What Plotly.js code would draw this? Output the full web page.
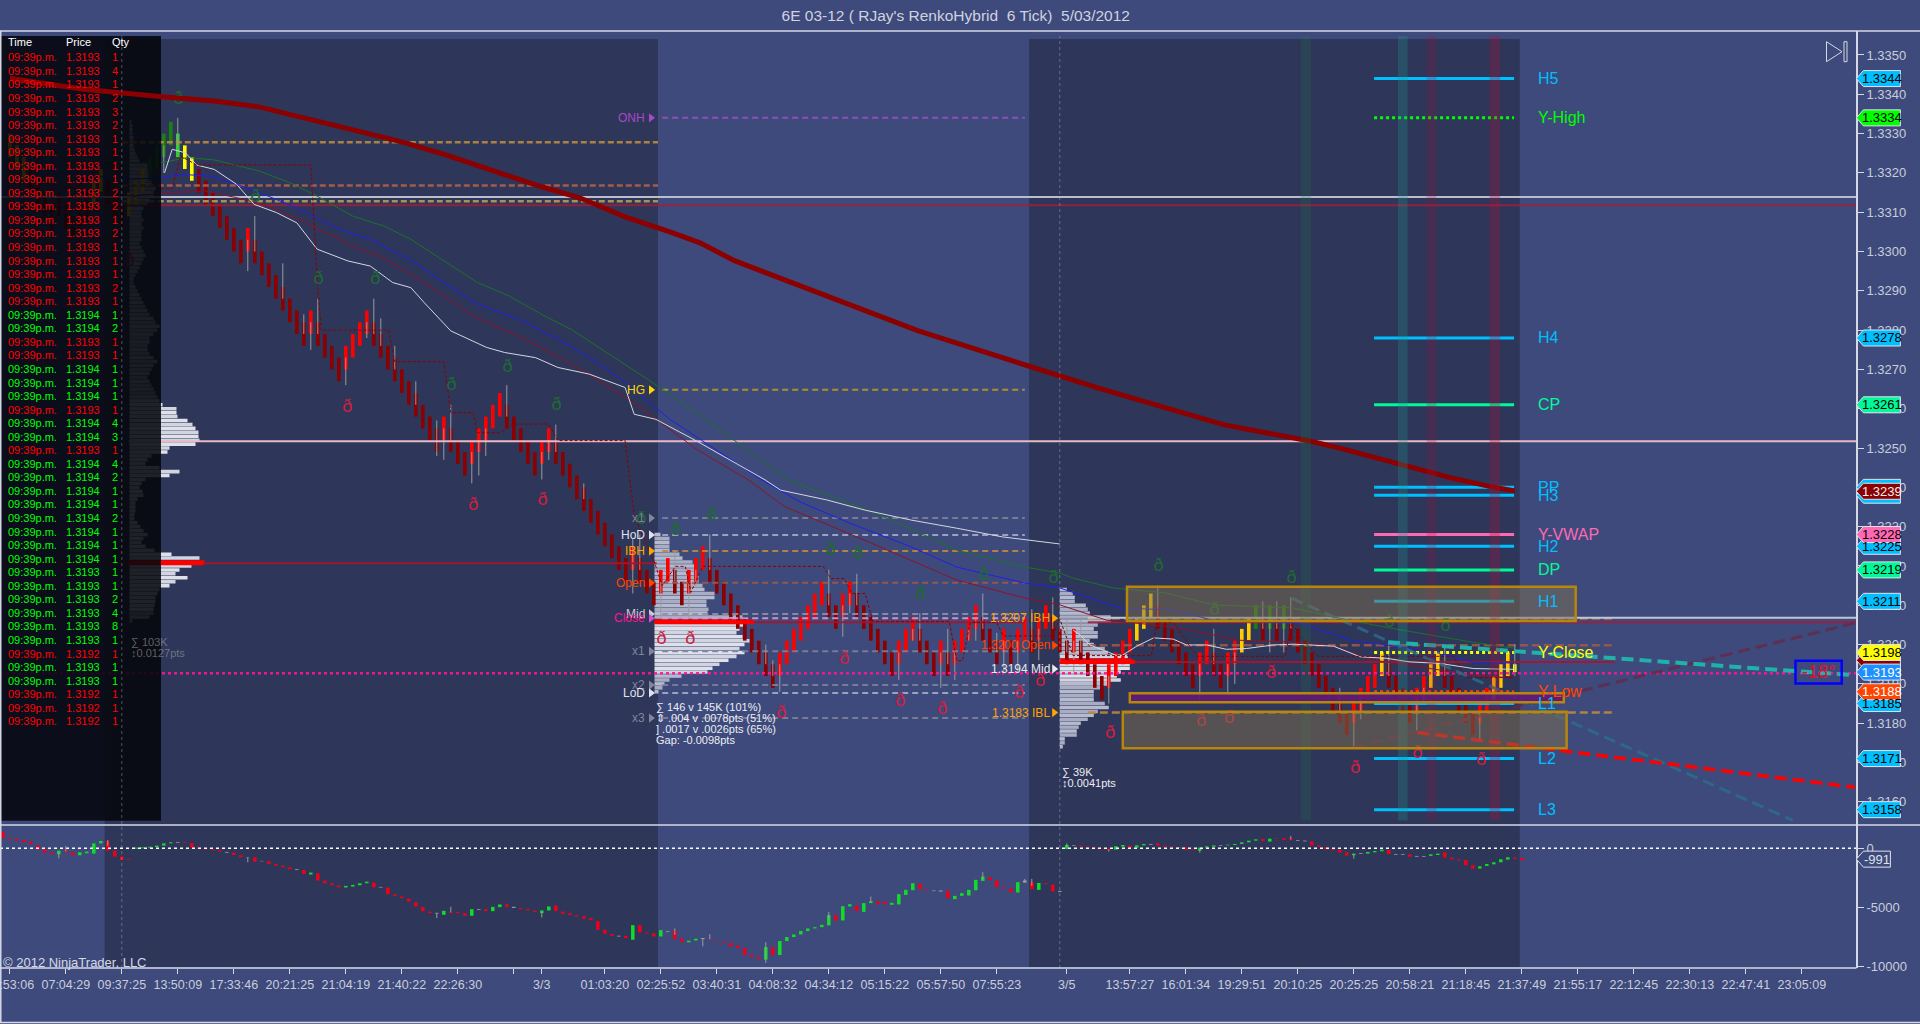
<!DOCTYPE html>
<html><head><meta charset="utf-8">
<script src="https://cdn.plot.ly/plotly-3.0.1.min.js"></script>
<style>html,body{margin:0;padding:0;background:#3e4a7b;overflow:hidden}#c{width:1920px;height:1024px}</style>
</head><body><div id="c"></div>
<script>
// ---------- tick labels
const xTickBars=[0,8,16,24,32,40,48,56,64,72,76,85,93,101,109,117,125,133,141,151,160,168,176,184,192,200,208,216,224,232,240,248,256];
const xTickLabels=["06:53:06","07:04:29","09:37:25","13:50:09","17:33:46","20:21:25","21:04:19","21:40:22","22:26:30","","3/3","01:03:20","02:25:52","03:40:31","04:08:32","04:34:12","05:15:22","05:57:50","07:55:23","3/5","13:57:27","16:01:34","19:29:51","20:10:25","20:25:25","20:58:21","21:18:45","21:37:49","21:55:17","22:12:45","22:30:13","22:47:41","23:05:09"];
// ---------- Renko bars: top of body per bar, bar kind
const bodyTops=[1.3330,1.3327,1.3324,1.3321,1.3318,1.3315,1.3312,1.3315,1.3312,1.3309,1.3312,1.3315,1.3318,1.3321,1.3318,1.3315,1.3312,1.3315,1.3318,1.3321,1.3324,1.3327,1.3330,1.3333,1.3330,1.3327,1.3324,1.3321,1.3318,1.3315,1.3312,1.3309,1.3306,1.3303,1.3306,1.3303,1.3300,1.3297,1.3294,1.3291,1.3288,1.3285,1.3282,1.3285,1.3282,1.3279,1.3276,1.3273,1.3276,1.3279,1.3282,1.3285,1.3282,1.3279,1.3276,1.3273,1.3270,1.3267,1.3264,1.3261,1.3258,1.3255,1.3258,1.3255,1.3252,1.3249,1.3252,1.3255,1.3258,1.3261,1.3264,1.3261,1.3258,1.3255,1.3252,1.3249,1.3252,1.3255,1.3252,1.3249,1.3246,1.3243,1.3240,1.3237,1.3234,1.3231,1.3228,1.3225,1.3222,1.3225,1.3222,1.3219,1.3216,1.3219,1.3222,1.3219,1.3216,1.3219,1.3222,1.3225,1.3222,1.3219,1.3216,1.3213,1.3210,1.3207,1.3204,1.3201,1.3198,1.3195,1.3198,1.3201,1.3204,1.3207,1.3210,1.3213,1.3216,1.3213,1.3210,1.3213,1.3216,1.3213,1.3210,1.3207,1.3204,1.3201,1.3198,1.3201,1.3204,1.3207,1.3204,1.3201,1.3198,1.3201,1.3198,1.3201,1.3204,1.3207,1.3210,1.3207,1.3204,1.3201,1.3204,1.3201,1.3204,1.3207,1.3204,1.3207,1.3210,1.3207,1.3204,1.3201,1.3204,1.3201,1.3198,1.3195,1.3192,1.3195,1.3198,1.3201,1.3204,1.3207,1.3210,1.3213,1.3210,1.3207,1.3204,1.3201,1.3198,1.3195,1.3198,1.3201,1.3198,1.3195,1.3198,1.3201,1.3204,1.3207,1.3210,1.3207,1.3210,1.3207,1.3210,1.3207,1.3204,1.3201,1.3198,1.3195,1.3192,1.3189,1.3186,1.3183,1.3186,1.3189,1.3192,1.3195,1.3198,1.3195,1.3192,1.3189,1.3186,1.3189,1.3192,1.3195,1.3198,1.3195,1.3192,1.3189,1.3186,1.3183,1.3186,1.3189,1.3192,1.3195,1.3198,1.3195];
const bodyKinds=('ggg ddddddddd gg ddd ggg GGGG L YY ddddddd r dddddddd r dddd rrrr dddddddddd r ddd rrrrr ddddd rr ddddddddddd r ddd rr dd rrr dddddddddd rrrrrrr dd rr dddddd rrr ddd r d rrrr ddd r d rr d rr ddd r dddd rrrr ggg dddddd rr dd rr gg G d G d G ddddddddd rrrr g dddd rr gg ddddd rr ggg Y').replace(/ /g,'').split('');
const renkoBody=0.0006, lastBody=0.0002;
// ---------- wicks
const wickBars=[24,22,34,35,39,44,43,42,48,51,52,53,55,58,61,61,62,63,66,67,68,71,76,77,78,82,89,89,90,93,95,97,98,100,108,109,110,117,119,120,121,127,129,130,133,134,135,137,138,139,141,142,144,146,147,149,151,152,153,157,164,170,172,174,175,179,180,181,182,183,190,192,193,197,201,202,205,210,215];
const wickEnds=[1.3334,1.3320,1.3295,1.3309,1.3297,1.3288,1.3275,1.3284,1.3266,1.3278,1.3288,1.3283,1.3276,1.3267,1.3257,1.3248,1.3247,1.3261,1.3241,1.3243,1.3248,1.3266,1.3242,1.3247,1.3256,1.3241,1.3227,1.3213,1.3228,1.3207,1.3224,1.3207,1.3215,1.3228,1.3200,1.3196,1.3188,1.3219,1.3202,1.3208,1.3218,1.3191,1.3201,1.3208,1.3189,1.3204,1.3191,1.3201,1.3201,1.3213,1.3203,1.3193,1.3193,1.3209,1.3196,1.3212,1.3207,1.3193,1.3207,1.3185,1.3215,1.3186,1.3204,1.3187,1.3190,1.3211,1.3198,1.3211,1.3198,1.3212,1.3189,1.3174,1.3181,1.3200,1.3178,1.3185,1.3200,1.3176,1.3200];
// ---------- moving averages
const maRedX=[0,10.5,22.2,29.2,35.6,43.2,50.9,56,62.3,68.7,75.2,81.5,87.9,94.3,98.6,103.6,112.3,121,129.7,143.7,156,173.5,185.7,190,195.3,200.6,205.9,211.2,215];
const maRedY=[1.33441,1.33413,1.33393,1.33383,1.33368,1.33335,1.33302,1.33279,1.33246,1.33207,1.33169,1.33136,1.33088,1.33050,1.33022,1.32976,1.32917,1.32855,1.32799,1.32719,1.32650,1.32559,1.32518,1.32500,1.32475,1.32449,1.32424,1.32403,1.32391];
const vwap1X=[22.1,23.2,25.1,26.7,29.2,32.4,34.9,38.1,41,43.9,48.3,51.5,54.7,57.3,59.2,63,68.1,70.7,75.1,78.3,82.8,87.9,89.2,92.3,98.1,107.9,110.1,116.7,122.2,128.7,135.3,141.8,150];
const vwap1Y=[1.33200,1.33260,1.33251,1.33220,1.33209,1.33171,1.33120,1.33099,1.33073,1.33006,1.32976,1.32963,1.32921,1.32908,1.32870,1.32798,1.32756,1.32743,1.32730,1.32705,1.32688,1.32654,1.32586,1.32573,1.32518,1.32419,1.32393,1.32368,1.32342,1.32317,1.32296,1.32274,1.32256];
const vwap2X=[151.9,152.9,154.3,158.6,161,163.4,166.2,168.1,171,173.8,176.7,180.5,183.4,189.1,192.9,196.7,200,204.3,209.1,214.8];
const vwap2Y=[1.32037,1.32024,1.31999,1.31969,1.31996,1.32017,1.32014,1.31999,1.31999,1.31988,1.31990,1.31999,1.32001,1.31996,1.31969,1.31965,1.31956,1.31952,1.31939,1.31937];
const greenX=[0,5.6,12.6,17.7,21.6,25.4,29.2,35.6,40,43.9,49,53.4,57.3,61.7,66.8,71.3,76.4,80.2,85.3,91.1,98.1,111.2,116.1,123.3,128.2,135.3,145.1,150,151.9,157.6,165.3,171.9,183.3,190,197.2,209,214.8];
const greenY=[1.33264,1.33251,1.33234,1.33226,1.33226,1.33239,1.33233,1.33205,1.33175,1.33141,1.33090,1.33065,1.33031,1.32980,1.32921,1.32887,1.32836,1.32802,1.32743,1.32675,1.32590,1.32419,1.32385,1.32337,1.32299,1.32240,1.32197,1.32182,1.32169,1.32144,1.32131,1.32101,1.32093,1.32067,1.32042,1.32006,1.31991];
const blueX=[1.1,5,10.1,16.5,20.3,24.7,28.6,32.4,36.9,42,47.1,51.5,57.9,62.4,66.8,72.6,78.3,84.1,87.9,94.3,107.4,112.9,120,128.7,135.3,145.1,150,158.6,166.2,171.9,184.3,191.5,196.7,204.3,209,214.8];
const blueY=[1.33222,1.33209,1.33196,1.33184,1.33186,1.33196,1.33192,1.33171,1.33141,1.33103,1.33056,1.33031,1.32972,1.32917,1.32866,1.32828,1.32777,1.32717,1.32667,1.32573,1.32419,1.32363,1.32309,1.32249,1.32197,1.32156,1.32144,1.32093,1.32088,1.32062,1.32055,1.32011,1.31999,1.31978,1.31955,1.31953];
const maroonX=[1.1,6.3,11.4,17.7,22.8,27.9,32.4,36.9,43.2,49,53.4,59.2,66.2,72.6,79,84.7,89.8,98.1,105.5,110.7,121,128.7,135.3,145.1,150,156.7,166.2,175.7,184.3,189,194.7,201.5,209,214.8];
const maroonY=[1.33179,1.33171,1.33154,1.33141,1.33150,1.33154,1.33137,1.33116,1.33065,1.33014,1.32984,1.32921,1.32836,1.32785,1.32726,1.32667,1.32607,1.32497,1.32419,1.32351,1.32274,1.32215,1.32164,1.32118,1.32101,1.32062,1.32045,1.32011,1.32006,1.31996,1.31961,1.31943,1.31922,1.31915];
const stepX=[20.9,23.2,24.4,26.7,43,43.4,44,44.5,54.1,55,62,63,66.2,66.8,70,71.9,77,78.3,87.9,89.2,92.1,93.2,95.1,96.5,97.3,99,116.2,117.3,119.2,120.3,122.2,123.3,134.2,135.3,136.1,137.2,141,141.9,149,150,151.9,163.1,163.8,166.2,169.6,182.2,183.1,184.8,186.9,206.2,208.1,214.8];
const stepY=[1.33160,1.33160,1.33243,1.33220,1.33220,1.33099,1.32904,1.32800,1.32800,1.32720,1.32720,1.32590,1.32590,1.32539,1.32539,1.32561,1.32561,1.32519,1.32519,1.32328,1.32209,1.32150,1.32199,1.32199,1.32133,1.32199,1.32199,1.32168,1.32168,1.32130,1.32130,1.32059,1.32059,1.31959,1.31959,1.32056,1.32056,1.32022,1.32022,1.32065,1.31972,1.31972,1.32056,1.32056,1.31970,1.31970,1.32056,1.32010,1.31970,1.31970,1.31916,1.31916];
// ---------- delta markers
const greenMarkX=[24.1,35.1,44.1,52.2,63.1,71.1,78.1,90.2,95.1,100.2,117.2,121.1,130.1,139.1,149.1,164.1,172.1,183.1,197.1,205.1];
const greenMarkY=[1.33387,1.33137,1.32928,1.32928,1.32658,1.32706,1.32607,1.32319,1.32289,1.32329,1.32239,1.32228,1.32127,1.32177,1.32169,1.32198,1.32086,1.32167,1.32056,1.32046];
const redMarkX=[17.1,48.2,66.2,76.1,93.1,97.2,110.2,119.2,127.2,133.2,144.2,147.2,157.2,170.2,174.2,180.2,192.2,201.1,210.2];
const redMarkY=[1.32974,1.32603,1.32355,1.32366,1.32014,1.32014,1.31825,1.31963,1.31855,1.31836,1.31876,1.31906,1.31775,1.31805,1.31812,1.31927,1.31685,1.31723,1.31705];
// ---------- volume profiles
const prof0=[2,3,3,3,4,4,4,5,6,8,10,18,18,20,20,22,22,26,24,24,20,18,14,12,12,14,12,14,12,12,12,10,12,14,16,14,12,10,8,6,4,4,6,8,10,12,14,16,18,20,24,26,30,28,24,20,20,18,18,20,24,28,24,22,20,18,20,22,24,26,28,30,33,47,47,48,58,63,66,69,69,70,66,40,38,22,18,16,30,50,40,16,12,10,13,14,8,6,6,6,5,5,8,11,14,18,14,12,16,25,42,70,75,62,50,46,58,46,40,30,28,26,26,25,24,24,20,3];
const prof1=[6,15,15,15,15,25,28,38,40,40,42,44,44,48,50,60,60,52,52,54,53,88,96,90,85,82,88,95,90,85,90,82,74,65,58,53,27,15,10,8,4];
const prof2=[7,13,15,15,26,28,30,51,51,38,34,38,38,30,34,45,48,68,72,70,70,61,57,61,49,42,34,34,34,45,49,38,34,28,21,19,17,17,5,5,3];
const profStarts=[1.3333,1.3228,1.3214], profBars=[17.1,92.1,150], profPocRow=[112,22,18];
// ---------- pivot levels
const pivotNames=['H5','Y-High','H4','CP','PP','H3','Y-VWAP','H2','DP','H1','Y-Close','Y-Low','L1','L2','L3'];
const pivotPrices=[1.3344,1.3334,1.3278,1.3261,1.3240,1.3238,1.3228,1.3225,1.3219,1.3211,1.3198,1.3188,1.3185,1.3171,1.3158];
const pivotColors=['#00bfff','#00ff00','#00bfff','#00fa9a','#00bfff','#00bfff','#ff69b4','#00bfff','#00fa9a','#00bfff','#ffff00','#ff4500','#00bfff','#00bfff','#00bfff'];
const tagPrices=[1.3344,1.3334,1.3278,1.3261,1.3240,1.3238,1.3239,1.3225,1.3228,1.3219,1.3211,1.3196,1.3198,1.3193,1.3185,1.3188,1.3171,1.3158];
const tagTexts=['1.3344','1.3334','1.3278','1.3261','','','1.3239','1.3225','1.3228','1.3219','1.3211','','1.3198','1.3193','1.3185','1.3188','1.3171','1.3158'];
const tagFill=['#00bfff','#00ff00','#00bfff','#00fa9a','#00bfff','#00bfff','#8b0000','#00bfff','#ff69b4','#00fa9a','#00bfff','#8b0000','#ffff00','#1e90ff','#00bfff','#ff4500','#00bfff','#00bfff'];
const tagInk=['#000','#000','#000','#000','#000','#000','#f0f0f0','#000','#000','#000','#000','#000','#000','#fff','#000','#fff','#000','#000'];
// session 1 levels
const s1Names=['ONH','HG','x1','HoD','IBH','Open','Mid','Close','x1','x2','LoD','x3'];
const s1Prices=[1.33340,1.32648,1.32322,1.32279,1.32238,1.32157,1.32078,1.32067,1.31983,1.31897,1.31877,1.31813];
const s1Line=['#9a4fc0','#b59a20','#7d8198','#a6abc6','#b98a40','#9c5a48','#8d90a8','#d89ad8','#7d8198','#7d8198','#a6abc6','#7d8198'];
const s1Text=['#a848c8','#ffd700','#80859c','#e0e2ee','#ffa500','#ff4500','#c8c8d8','#ff1493','#80859c','#80859c','#e0e2ee','#80859c'];
const s0Prices=[1.33278,1.33168,1.33128], s0Line=['#b98a40','#b06048','#b59a50'];
const s2Names=['1.3207 IBH','1.3200 Open','1.3194 Mid','1.3183 IBL'];
const s2Prices=[1.32067,1.31998,1.31938,1.31827];
const s2Text=['#ffa500','#ff4500','#e8e8f0','#ffa500'];
// ---------- time and sales table
const tablePrices=[1.3193,1.3193,1.3193,1.3193,1.3193,1.3193,1.3193,1.3193,1.3193,1.3193,1.3193,1.3193,1.3193,1.3193,1.3193,1.3193,1.3193,1.3193,1.3193,1.3194,1.3194,1.3193,1.3193,1.3194,1.3194,1.3194,1.3193,1.3194,1.3194,1.3193,1.3194,1.3194,1.3194,1.3194,1.3194,1.3194,1.3194,1.3194,1.3193,1.3193,1.3193,1.3193,1.3193,1.3193,1.3192,1.3193,1.3193,1.3192,1.3192,1.3192];
const tableQty=[1,4,1,2,3,2,1,1,1,1,2,2,1,2,1,1,1,2,1,1,2,1,1,1,1,1,1,4,3,1,4,2,1,1,2,1,1,1,1,1,2,4,8,1,1,1,1,1,1,1];
const tableUp=[0,0,0,0,0,0,0,0,0,0,0,0,0,0,0,0,0,0,0,1,1,0,0,1,1,1,0,1,1,0,1,1,1,1,1,1,1,1,1,1,1,1,1,1,0,1,1,0,0,0];
// ---------- cumulative delta panel (bars from -1)
const deltaTop=[1410,850,790,710,570,230,-80,-370,-200,-200,-340,-340,-280,420,620,620,-200,-710,-930,60,80,140,230,420,510,540,510,450,80,0,-80,-170,-310,-370,-590,-760,-760,-1070,-1100,-1330,-1470,-1610,-1780,-1840,-2060,-2120,-2740,-2970,-3160,-3190,-3110,-2970,-2830,-2910,-3280,-3330,-3900,-4100,-4270,-4580,-4970,-5370,-5480,-5310,-5400,-5400,-5510,-5170,-5170,-5170,-4970,-4770,-4750,-4970,-5060,-5170,-5280,-5280,-4940,-4860,-5370,-5510,-5680,-5760,-5930,-6190,-6920,-7290,-7430,-7430,-6530,-6530,-7150,-7230,-6950,-7060,-6980,-7710,-7850,-7680,-7630,-7710,-7800,-7940,-8050,-8280,-8480,-9070,-9240,-8390,-8390,-7880,-7540,-7320,-7030,-6810,-6700,-6500,-5680,-5680,-4920,-4750,-4860,-4660,-4490,-4520,-4520,-4630,-3900,-3530,-2970,-3020,-3470,-3590,-3590,-3590,-4040,-3810,-3530,-2680,-2400,-2460,-2710,-3310,-3420,-2880,-2740,-2880,-2940,-2970,-3080,-3620,280,250,250,140,60,0,-30,170,280,230,250,370,370,420,230,170,110,80,-60,60,170,250,280,310,370,510,650,760,790,820,850,850,850,710,650,590,250,80,-80,-140,-340,-450,-420,-310,-230,-110,-140,-480,-480,-510,-650,-650,-510,-450,-340,-790,-930,-990,-1440,-1530,-1330,-1190,-930,-760,-790,-820];
const deltaBot=[850,760,650,510,370,-140,-370,-510,-510,-340,-590,-590,-420,-450,420,-200,-710,-990,-990,-30,0,60,110,230,420,480,450,80,-30,-80,-170,-280,-370,-570,-760,-790,-1130,-1100,-1330,-1470,-1610,-1780,-1840,-2200,-2230,-2740,-2970,-3140,-3310,-3330,-3250,-3140,-2970,-3310,-3330,-3900,-4040,-4240,-4520,-4940,-5340,-5510,-5540,-5650,-5480,-5510,-5730,-5730,-5230,-5340,-5340,-5000,-4970,-5060,-5170,-5280,-5400,-5510,-5280,-5340,-5570,-5680,-5790,-5990,-6100,-6920,-7260,-7430,-7490,-7630,-7770,-7150,-7230,-7490,-7490,-7120,-7710,-7970,-7990,-7830,-7710,-7770,-7850,-8020,-8330,-8480,-9070,-9240,-9410,-9460,-9070,-9070,-7880,-7540,-7320,-7030,-6810,-6700,-6550,-6130,-6130,-4940,-5340,-5400,-4660,-4750,-4750,-4800,-4770,-3960,-3560,-3470,-3560,-3640,-3670,-4240,-4320,-4040,-4010,-3560,-2770,-2710,-3310,-3390,-3730,-3760,-2910,-3470,-3530,-3050,-3670,-3700,-60,200,170,60,-30,-30,-140,-110,140,60,60,250,310,230,140,110,80,-110,-110,-200,60,140,230,250,280,370,510,650,620,570,790,710,680,650,590,250,140,-80,-170,-370,-620,-590,-480,-450,-340,-250,-480,-540,-540,-710,-710,-710,-650,-570,-790,-930,-1020,-1440,-1720,-1720,-1500,-1360,-1190,-960,-900,-1020];
const deltaKinds=('rrrrrrrr g rr gggg rrrr gggggg n rrrrrr n rr n r n rrrr n r g rrrr gggg r n rrrrrrr n g rrr g n r gg r n rrr gg rrrrrrrrr n r g rrr g n rr gg n rrrrrrrr g r gggggggg r gg r gg rr gggg rr nn r ggggg rrrr g n r g rr n g n rrrrr gg r gg n rrr n rr ggg n ggggg r g rrr nn rrrrrr g n ggg r nn r nn gg rrrrr ggggg rr').replace(/ /g,'').split('');
const deltaWickBars=[7,8,14,34,61,63,76,95,99,100,108,108,117,123,139,145,146,151,157,170,183,192];
const deltaWickEnds=[-850,200,700,-1190,-5930,-4970,-5880,-6810,-8330,-7290,-7970,-9750,-5400,-4100,-2030,-2600,-2600,420,-280,-370,1050,-880];

// ---------- helpers
const XMIN=-1.4,XMAX=272.886,AXB=263.8;
const BG='#3e4a7b',DARK='#2e3659',AX='#d5d9e6',TXT='#c9cddb',FONT='"Liberation Sans",Arial,sans-serif',NARROW='"Liberation Sans Narrow","Liberation Sans",Arial,sans-serif';
const P=y=>1-y/1024, PX=x=>x/1920;
const traces=[];
function line(x,y,color,width,dash,opacity,yaxis){traces.push({type:'scatter',mode:'lines',x,y,yaxis:yaxis||'y',line:{color,width,dash:dash||'solid'},opacity:opacity==null?1:opacity,hoverinfo:'skip'});}
const annots=[];
function ann(x,y,text,color,size,anchor,xref,yref){annots.push({x,y,text,xref:xref||'paper',yref:yref||'paper',showarrow:false,xanchor:anchor||'left',yanchor:'middle',align:anchor||'left',font:{family:NARROW,size:size||11,color},borderpad:0});}
const barX=bodyTops.map((_,i)=>i);

// profiles
[prof0,prof1,prof2].forEach((vol,k)=>{
  const rows=vol.map((_,i)=>profStarts[k]-i*0.0001);
  const cols=vol.map((_,i)=>i===profPocRow[k]?'#ff0000':(k===1&&i>22&&i<36)||(k===2&&i>16&&i<24)||(k===0&&i>70&&i<125)?(i%2?'#d2d5e1':'#dfe1ea'):(i%2?'#a8adc3':'#b6bace'));
  traces.push({type:'bar',orientation:'h',y:rows,x:vol.map(v=>v/7),base:profBars[k],width:0.00009,marker:{color:cols},hoverinfo:'skip'});
});

// session lines under the bars
s0Prices.forEach((p,i)=>line([16,92.6],[p,p],s0Line[i],2.5,'6px,3px',0.9));
s1Prices.forEach((p,i)=>line([93.2,145],[p,p],s1Line[i],2,'6px,4px',0.9));
line([154,229.3],[s2Prices[1],s2Prices[1]],'#9c5a48',2.5,'8px,4px',0.9);
line([154,229.3],[s2Prices[3],s2Prices[3]],'#b98a40',2.5,'8px,4px',0.9);
line([154,229.3],[s2Prices[0],s2Prices[0]],'#d0a040',2.5,'8px,4px',0.8);

// candles
const kindColor={d:'#8b0000',r:'#ff0000',g:'#ffcc00',G:'#1a8010',L:'#32cd32',Y:'#ffff00'};
const wx=[],wy=[];
wickBars.forEach((b,i)=>{wx.push(b,b,null);wy.push(bodyTops[b]-renkoBody/2,wickEnds[i],null);});
traces.push({type:'scatter',mode:'lines',x:wx,y:wy,line:{color:'#9c9c9c',width:1},hoverinfo:'skip'});
const bodyH=bodyTops.map((_,i)=>bodyKinds[i]==='Y'&&i===bodyTops.length-1?lastBody:renkoBody);
traces.push({type:'bar',x:barX,base:bodyTops.map((t,i)=>t-bodyH[i]),y:bodyH,width:0.52,marker:{color:bodyKinds.map(k=>kindColor[k]||'#8b0000')},hoverinfo:'skip'});

// horizontal reference lines
line([XMIN,AXB],[1.33139,1.33139],'#b9bdcf',2);
line([XMIN,AXB],[1.33118,1.33118],'#a01e3c',2,null,0.85);
line([17,AXB],[1.32517,1.32517],'#e8b8c4',2);
line([XMIN,92.4],[1.32207,1.32207],'#a8142e',2,null,0.9);
line([17,27.7],[1.32207,1.32207],'#ff0000',4);
line([92.1,145],[1.32057,1.32057],'#a8142e',2,null,0.9);
line([92.1,106.3],[1.32057,1.32057],'#ff0000',4);
line([154,AXB],[1.32068,1.32068],'#c0c4d4',2);
line([154,AXB],[1.32057,1.32057],'#a01e3c',2,null,0.9);
line([150,229.3],[1.31956,1.31956],'#a8142e',2,null,0.9);
line([150,160.7],[1.31956,1.31956],'#ff0000',4);
line([XMIN,AXB],[1.31927,1.31927],'#ff1493',2.5,'dot',0.9);
line([XMIN,AXB],[0,0],'#ffffff',1.5,'dot',1,'y2');

// moving averages
line(maroonX,maroonY,'#8f1428',1);
line(blueX,blueY,'#2020ea',1);
line(greenX,greenY,'#1a7428',1);
line(vwap1X,vwap1Y,'#d4d6e2',1);
line(vwap2X,vwap2Y,'#d4d6e2',1);
line(stepX,stepY,'#8b0000',1,'3px,2px');

// pivots
pivotNames.forEach((n,i)=>{
  const dotted=(n==='Y-High'||n==='Y-Close'||n==='Y-Low');
  line([194.9,214.9],[pivotPrices[i],pivotPrices[i]],pivotColors[i],3,dotted?'dot':null);
  ann(PX(1537),pivotPrices[i],n,pivotColors[i],16,'left','paper','y');
});

// trend lines
line([183.1,254.7],[1.32118,1.31553],'#2a6e8c',3,'12px,6px',0.8);
line([192,263.6],[1.31739,1.32055],'#64284a',3,'12px,6px',0.8);
line([196.9,263.5],[1.32006,1.31922],'#20b2aa',4,'12px,6px');
line([201.1,263.6],[1.31776,1.31637],'#ff0000',3.5,'12px,6px');

// delta glyphs
traces.push({type:'scatter',mode:'text',x:greenMarkX,y:greenMarkY,text:greenMarkX.map(()=>'ð'),textposition:'middle center',textfont:{family:FONT,size:18,color:'#1c6c30'},hoverinfo:'skip'});
traces.push({type:'scatter',mode:'text',x:redMarkX,y:redMarkY,text:redMarkX.map(()=>'ð'),textposition:'middle center',textfont:{family:FONT,size:18,color:'#d02040'},hoverinfo:'skip'});

// session level triangles and labels
const triX=[],triY=[],triC=[];
s1Names.forEach((n,i)=>{triX.push(91.6);triY.push(s1Prices[i]);triC.push(s1Text[i]==='#ff1493'?'#d050d0':s1Text[i]);ann(PX(646),s1Prices[i],n,s1Text[i],12,'right','paper','y');});
s2Names.forEach((n,i)=>{triX.push(149.2);triY.push(s2Prices[i]);triC.push(s2Text[i]);ann(PX(1050.5),s2Prices[i],n,s2Text[i],12,'right','paper','y');});
traces.push({type:'scatter',mode:'markers',x:triX,y:triY,marker:{symbol:'triangle-right',size:8,color:triC},hoverinfo:'skip'});

// time and sales backing panel: sits over the bars, under the long moving average
traces.push({type:'scatter',mode:'lines',x:[-1.257,21.6,21.6,-1.257,-1.257],y:[1.33548,1.33548,1.31552,1.31552,1.33548],fill:'toself',fillcolor:'rgba(4,6,12,.87)',line:{width:0},hoverinfo:'skip'});
line(maRedX,maRedY,'#8b0000',5);

// delta panel
const dx=deltaKinds.map((_,i)=>i-1);
const dcol={r:'#f00018',g:'#12dc2a',n:'#a8a8b0'};
const dwx=[],dwy=[];
deltaWickBars.forEach((b,i)=>{const c=(deltaTop[b+1]+deltaBot[b+1])/2;dwx.push(b,b,null);dwy.push(c,deltaWickEnds[i],null);});
traces.push({type:'scatter',mode:'lines',x:dwx,y:dwy,yaxis:'y2',line:{color:'#9c9c9c',width:1},hoverinfo:'skip'});
traces.push({type:'bar',x:dx,base:deltaBot,y:deltaTop.map((t,i)=>Math.max(t-deltaBot[i],30)),yaxis:'y2',width:0.5,marker:{color:deltaKinds.map(k=>dcol[k])},hoverinfo:'skip'});

// shapes
const shapes=[];
const sess=(x0,x1,f)=>shapes.push({type:'rect',layer:'below',xref:'x',yref:'paper',x0,x1,y0:P(967),y1:P(39),fillcolor:f,line:{width:0}});
sess(13.55,92.6,DARK);sess(145.6,215.7,DARK);
const vband=(x0,x1,c)=>shapes.push({type:'rect',layer:'above',xref:'x',yref:'paper',x0,x1,y0:P(820.5),y1:P(36),fillcolor:c,line:{width:0}});
vband(184.4,185.9,'rgba(30,120,70,.2)');
vband(198.3,199.7,'rgba(30,150,140,.27)');
vband(202.4,203.8,'rgba(160,20,60,.22)');
vband(211.4,212.9,'rgba(170,20,60,.3)');
const box=(x0,x1,y0,y1,f)=>shapes.push({type:'rect',layer:'above',xref:'x',yref:'y',x0,x1,y0,y1,fillcolor:f,line:{color:'#b8860b',width:2.5}});
box(159.6,223.7,1.32060,1.32147,'rgba(125,110,80,.5)');
box(160,222,1.31853,1.31876,'rgba(95,25,120,.9)');
box(159,222.4,1.31736,1.31829,'rgba(125,110,80,.5)');
shapes.push({type:'rect',layer:'above',xref:'x',yref:'y',x0:255.1,x1:261.7,y0:1.31901,y1:1.31959,fillcolor:'rgba(0,0,0,0)',line:{color:'#0000ff',width:2.5}});
// vertical session dotted lines
[16,150].forEach(b=>shapes.push({type:'line',layer:'above',xref:'x',yref:'paper',x0:b,x1:b,y0:P(968),y1:P(36),line:{color:'rgba(185,190,205,.4)',width:1,dash:'dot'}}));
// frame
const hl=(y,x0,x1)=>shapes.push({type:'line',layer:'above',xref:'paper',yref:'paper',x0:x0/1920,x1:x1/1920,y0:P(y),y1:P(y),line:{color:AX,width:1.5}});
hl(31,0,1920);hl(825,0,1920);hl(968,0,1856.4);hl(1022.5,0,1920);
shapes.push({type:'line',layer:'above',xref:'paper',yref:'paper',x0:0.0004,x1:0.0004,y0:P(1022.5),y1:P(31),line:{color:AX,width:1.5}});
// end-of-chart icon
shapes.push({type:'path',layer:'above',xref:'paper',yref:'paper',path:`M${1826.5/1920},${P(41.7)} L${1842/1920},${P(51.7)} L${1826.5/1920},${P(61.7)} Z`,fillcolor:'rgba(0,0,0,0)',line:{color:AX,width:1}});
shapes.push({type:'rect',layer:'above',xref:'paper',yref:'paper',x0:1844/1920,x1:1847/1920,y0:P(61.7),y1:P(41.7),fillcolor:'rgba(0,0,0,0)',line:{color:AX,width:1}});
// price tags
const tagPath='M0,0 L7,-8 L44,-8 L44,8 L7,8 Z';
tagPrices.forEach((p,i)=>{
  shapes.push({type:'path',layer:'above',xref:'x',yref:'y',xsizemode:'pixel',ysizemode:'pixel',xanchor:AXB,yanchor:p,path:tagPath,fillcolor:tagFill[i],line:{color:'#dfe2ec',width:1}});
  if(tagTexts[i]) ann(AXB+3.6,p,tagTexts[i],tagInk[i],13,'center','x','y');
});
shapes.push({type:'path',layer:'above',xref:'x',yref:'y2',xsizemode:'pixel',ysizemode:'pixel',xanchor:AXB,yanchor:-920,path:'M0,0 L7,-8 L34,-8 L34,8 L7,8 Z',fillcolor:BG,line:{color:'#dfe2ec',width:1}});
ann(AXB+2.9,-920,'-991','#dfe2ec',13,'center','x','y2');

// table text
ann(PX(7),P(41.7),'Time','#ffffff',11);ann(PX(65),P(41.7),'Price','#ffffff',11);ann(PX(111),P(41.7),'Qty','#ffffff',11);
tablePrices.forEach((pr,i)=>{
  const y=P(57.3+i*13.55),c=tableUp[i]?'#00ff00':'#ff0000';
  ann(PX(7),y,'09:39p.m.',c,11);ann(PX(65),y,pr.toFixed(4),c,11);ann(PX(111),y,String(tableQty[i]),c,11);
});
// small texts
['∑ 146 v 145K (101%)','⇕ .004 v .0078pts (51%)','] .0017 v .0026pts (65%)','Gap: -0.0098pts'].forEach((t,i)=>ann(PX(655),P(707+i*10.9),t,'#eceef4',11));
['∑ 39K','↕0.0041pts'].forEach((t,i)=>ann(PX(1060.5),P(772+i*11),t,'#eceef4',11));
['∑ 103K','↕0.0127pts'].forEach((t,i)=>ann(PX(130),P(642+i*11),t,'rgba(170,170,170,.55)',11));
ann(PX(2),P(962),'© 2012 NinjaTrader, LLC','#d5d9e6',13);
ann(258.4,1.3193,'-18°','#e01030',18,'center','x','y');

const layout={
  width:1920,height:1024,margin:{l:0,r:0,t:0,b:0},paper_bgcolor:BG,plot_bgcolor:BG,showlegend:false,barmode:'overlay',hovermode:false,dragmode:false,
  font:{family:FONT,color:TXT,size:12},
  title:{text:"6E 03-12 ( RJay's RenkoHybrid  6 Tick)  5/03/2012",x:0.4978,xanchor:'center',y:0.9845,yanchor:'middle',font:{family:FONT,size:15.5,color:'#cfd3e0'}},
  xaxis:{domain:[0,1],range:[XMIN,XMAX],anchor:'y2',tickmode:'array',tickvals:xTickBars,ticktext:xTickLabels,ticks:'outside',ticklen:5,tickcolor:AX,tickfont:{family:NARROW,size:12.5,color:TXT},showgrid:false,zeroline:false,showline:false,tickangle:0,ticklabeloverflow:'allow'},
  yaxis:{domain:[P(825),P(31)],range:[1.31541,1.33561],anchor:'free',position:1856.4/1920,side:'right',tickmode:'linear',tick0:1.3,dtick:0.001,tickformat:'.4f',ticks:'outside',ticklen:6,tickcolor:AX,tickfont:{family:NARROW,size:13,color:TXT},showgrid:false,zeroline:false,showline:true,linecolor:AX,linewidth:1.5},
  yaxis2:{domain:[P(968),P(825)],range:[-10170,1980],anchor:'free',position:1856.4/1920,side:'right',tickmode:'array',tickvals:[0,-5000,-10000],ticktext:['0','-5000','-10000'],ticks:'outside',ticklen:6,tickcolor:AX,tickfont:{family:NARROW,size:13,color:TXT},showgrid:false,zeroline:false,showline:true,linecolor:AX,linewidth:1.5},
  shapes,annotations:annots
};
Plotly.newPlot('c',traces,layout,{staticPlot:true,displayModeBar:false});
</script></body></html>
